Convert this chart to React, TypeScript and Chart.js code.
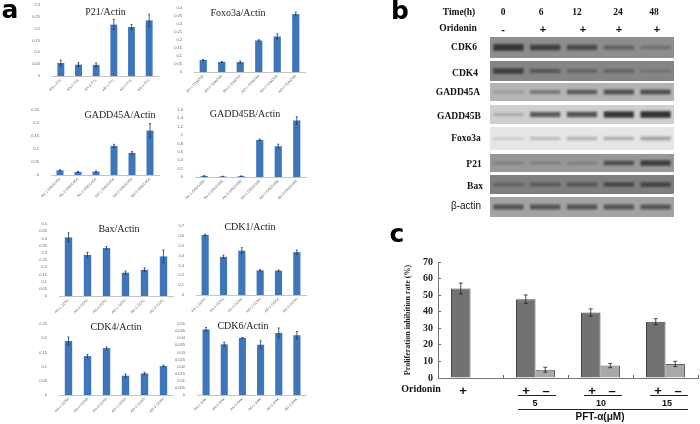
import React, { useEffect, useRef } from "react";
import { Chart, registerables } from "chart.js";

Chart.register(...registerables);

const SERIF = "'Liberation Serif', serif";
const SANS = "'Liberation Sans', sans-serif";
const HEAVY = "'DejaVu Sans', sans-serif";

const groups = ["AN-1", "AN-2", "AN-3", "AO-1", "AO-2", "AO-3"];

const p21Values = [0.055, 0.048, 0.047, 0.217, 0.207, 0.235];
const p21Errors = [0.012, 0.008, 0.008, 0.022, 0.011, 0.026];
const foxoValues = [0.075, 0.063, 0.062, 0.197, 0.222, 0.362];
const foxoErrors = [0.003, 0.003, 0.007, 0.004, 0.016, 0.012];
const gadd45aValues = [0.018, 0.012, 0.013, 0.112, 0.085, 0.171];
const gadd45aErrors = [0.002, 0.002, 0.002, 0.006, 0.005, 0.027];
const gadd45bValues = [0.025, 0.015, 0.02, 0.885, 0.735, 1.35];
const gadd45bErrors = [0.005, 0.003, 0.005, 0.02, 0.05, 0.09];
const baxValues = [0.407, 0.285, 0.333, 0.162, 0.182, 0.275];
const baxErrors = [0.032, 0.018, 0.01, 0.012, 0.013, 0.045];
const cdk1Values = [0.61, 0.387, 0.45, 0.25, 0.247, 0.435];
const cdk1Errors = [0.008, 0.018, 0.03, 0.006, 0.006, 0.02];
const cdk4Values = [0.19, 0.137, 0.165, 0.068, 0.076, 0.102];
const cdk4Errors = [0.014, 0.006, 0.004, 0.006, 0.004, 0.003];
const cdk6Values = [0.0462, 0.0357, 0.0402, 0.0354, 0.0437, 0.0421];
const cdk6Errors = [0.0013, 0.0014, 0.0003, 0.0027, 0.0035, 0.0026];

const smallPanels = [
  { title: "P21/Actin", tag: "P21", values: p21Values, errors: p21Errors, max: 0.3, step: 0.05, rect: [51.7, 158, 5, 76], tx: 105.5, ty: 12 },
  { title: "Foxo3a/Actin", tag: "FOXO3A", values: foxoValues, errors: foxoErrors, max: 0.4, step: 0.05, rect: [193.7, 305, 8, 72], tx: 238, ty: 13 },
  { title: "GADD45A/Actin", tag: "GADD45A", values: gadd45aValues, errors: gadd45aErrors, max: 0.25, step: 0.05, rect: [51, 159, 110, 175], tx: 120, ty: 115 },
  { title: "GADD45B/Actin", tag: "GADD45B", values: gadd45bValues, errors: gadd45bErrors, max: 1.6, step: 0.2, rect: [195, 306, 110, 177], tx: 245, ty: 114 },
  { title: "Bax/Actin", tag: "CDK1", values: baxValues, errors: baxErrors, max: 0.5, step: 0.05, rect: [59, 172.5, 224, 296], tx: 119, ty: 229 },
  { title: "CDK1/Actin", tag: "CDK4", values: cdk1Values, errors: cdk1Errors, max: 0.7, step: 0.1, rect: [196, 306, 226, 295], tx: 250, ty: 227 },
  { title: "CDK4/Actin", tag: "CDK6", values: cdk4Values, errors: cdk4Errors, max: 0.25, step: 0.05, rect: [59, 172.5, 324, 395], tx: 116, ty: 327 },
  { title: "CDK6/Actin", tag: "BAX", values: cdk6Values, errors: cdk6Errors, max: 0.05, step: 0.005, rect: [197, 306, 324, 395], tx: 243, ty: 326 },
];

const laneTimes = ["0", "6", "12", "24", "48"];
const laneTimeX = [503, 541, 577, 618, 654];
const laneSigns = ["-", "+", "+", "+", "+"];
const laneSignX = [503, 543, 583, 619, 657];

const cdk6Bands = [0.85, 0.7, 0.6, 0.35, 0.2];
const cdk4Bands = [0.7, 0.4, 0.3, 0.3, 0.12];
const gadd45aBands = [0.12, 0.4, 0.6, 0.7, 0.7];
const gadd45bBands = [0.15, 0.7, 0.75, 0.95, 1];
const foxoBands = [0.03, 0.12, 0.18, 0.2, 0.28];
const p21Bands = [0.12, 0.15, 0.12, 0.6, 0.8];
const baxBands = [0.25, 0.35, 0.4, 0.55, 0.6];
const actinBands = [0.6, 0.6, 0.6, 0.6, 0.6];

const blotRows = [
  { name: "CDK6", bands: cdk6Bands, top: 37, bottom: 58, bg: "#8d8d8d", lx: 464, ly: 48, font: SERIF },
  { name: "CDK4", bands: cdk4Bands, top: 61, bottom: 81, bg: "#858585", lx: 465, ly: 74, font: SERIF },
  { name: "GADD45A", bands: gadd45aBands, top: 83, bottom: 101, bg: "#b4b4b4", lx: 458, ly: 93, font: SERIF },
  { name: "GADD45B", bands: gadd45bBands, top: 105, bottom: 124, bg: "#cfcfcf", lx: 459, ly: 117, font: SERIF },
  { name: "Foxo3a", bands: foxoBands, top: 127, bottom: 150, bg: "#e6e6e6", lx: 466, ly: 139, font: SERIF },
  { name: "P21", bands: p21Bands, top: 154, bottom: 172, bg: "#989898", lx: 474, ly: 165, font: SERIF },
  { name: "Bax", bands: baxBands, top: 175, bottom: 194, bg: "#7f7f7f", lx: 475, ly: 187, font: SERIF },
  { name: "β-actin", bands: actinBands, top: 197, bottom: 217, bg: "#a3a3a3", lx: 466, ly: 206, font: SANS },
];

const inhibitionCategories = ["Control", "5", "10", "15"];
const oridoninPlus = [54, 47.5, 39.5, 34];
const oridoninPlusErrors = [3.3, 2.6, 2.2, 1.8];
const oridoninMinus = [null, 5, 7.5, 8.5];
const oridoninMinusErrors = [0, 1.5, 1.3, 1.6];

const errorBars = {
  id: "errorBars",
  afterDatasetsDraw(chart: any) {
    const ctx = chart.ctx;
    const yScale = chart.scales.y;
    chart.data.datasets.forEach((ds: any, i: number) => {
      if (!ds.errors) return;
      const meta = chart.getDatasetMeta(i);
      meta.data.forEach((el: any, j: number) => {
        const v = ds.data[j];
        if (v === null) return;
        const hi = yScale.getPixelForValue(v + ds.errors[j]);
        const lo = yScale.getPixelForValue(v - ds.errors[j]);
        const cap = ds.capSize;
        ctx.save();
        ctx.strokeStyle = ds.errorColor;
        ctx.lineWidth = 0.8;
        ctx.beginPath();
        ctx.moveTo(el.x, hi);
        ctx.lineTo(el.x, lo);
        ctx.moveTo(el.x - cap, hi);
        ctx.lineTo(el.x + cap, hi);
        ctx.moveTo(el.x - cap, lo);
        ctx.lineTo(el.x + cap, lo);
        ctx.stroke();
        ctx.restore();
      });
    });
  },
};

const fixX = (height: number) => (s: any) => {
  s.height = height;
  s.paddingLeft = 0;
  s.paddingRight = 0;
};
const fixY = (width: number) => (s: any) => {
  s.width = width;
  s.paddingTop = 0;
  s.paddingBottom = 0;
};

function SmallBar({ panel }: { panel: any }) {
  const ref = useRef<HTMLCanvasElement>(null);
  const [l, r, t, b] = panel.rect;
  useEffect(() => {
    const chart = new Chart(ref.current!, {
      type: "bar",
      data: {
        labels: groups.map((g) => `${g} ${panel.tag}`),
        datasets: [
          {
            data: panel.values,
            errors: panel.errors,
            errorColor: "#1d3a60",
            capSize: 1,
            backgroundColor: "#3f76ba",
            categoryPercentage: 0.39,
            barPercentage: 1,
          } as any,
        ],
      },
      options: {
        animation: false,
        responsive: false,
        layout: { padding: { top: 4, right: 4, left: 0, bottom: 0 } },
        plugins: { legend: { display: false }, tooltip: { enabled: false } },
        scales: {
          x: {
            afterFit: fixX(26),
            grid: { display: true, drawOnChartArea: false, tickLength: 1, color: "#c8c8c8" },
            border: { color: "#c4c4c4" },
            ticks: { autoSkip: false, minRotation: 45, maxRotation: 45, padding: 1, color: "#666", font: { family: SANS, size: 3.6 } },
          },
          y: {
            min: 0,
            max: panel.max,
            afterFit: fixY(22),
            grid: { display: false },
            border: { display: false },
            ticks: { autoSkip: false, stepSize: panel.step, padding: 4, color: "#666", font: { family: SANS, size: 4 }, callback: (v: any) => String(+(+v).toFixed(3)) },
          },
        },
      } as any,
      plugins: [errorBars],
    });
    return () => chart.destroy();
  }, []);
  const w = r - l;
  const h = b - t;
  return (
    <canvas
      ref={ref}
      width={Math.round(22 + w + 4)}
      height={Math.round(4 + h + 26)}
      style={{ position: "absolute", left: l - 22, top: t - 4, filter: "blur(0.45px)" }}
    />
  );
}

function BlotRow({ row }: { row: any }) {
  const ref = useRef<HTMLCanvasElement>(null);
  useEffect(() => {
    const chart = new Chart(ref.current!, {
      type: "bar",
      data: {
        labels: laneTimes,
        datasets: [
          {
            data: row.bands.map((v: number) => [-(0.1 + 0.25 * v), 0.1 + 0.25 * v]),
            backgroundColor: row.bands.map((v: number) => `rgba(20,20,20,${0.12 + 0.72 * v})`),
            categoryPercentage: 0.82,
            barPercentage: 1,
          },
        ],
      },
      options: {
        animation: false,
        responsive: false,
        layout: { padding: 0 },
        plugins: { legend: { display: false }, tooltip: { enabled: false } },
        scales: { x: { display: false }, y: { display: false, min: -1, max: 1 } },
      } as any,
    });
    return () => chart.destroy();
  }, []);
  return (
    <div style={{ position: "absolute", left: 490, top: row.top, width: 184, height: row.bottom - row.top, background: row.bg, overflow: "hidden" }}>
      <canvas ref={ref} width={184} height={row.bottom - row.top} style={{ display: "block", filter: "blur(1.3px)" }} />
    </div>
  );
}

function InhibitionChart() {
  const ref = useRef<HTMLCanvasElement>(null);
  useEffect(() => {
    const chart = new Chart(ref.current!, {
      type: "bar",
      data: {
        labels: inhibitionCategories,
        datasets: [
          {
            data: oridoninPlus,
            errors: oridoninPlusErrors,
            errorColor: "#222",
            capSize: 2,
            backgroundColor: "#727272",
            borderColor: "#444",
            borderWidth: 1,
            categoryPercentage: 0.6,
            barPercentage: 1,
          } as any,
          {
            data: oridoninMinus,
            errors: oridoninMinusErrors,
            errorColor: "#222",
            capSize: 2,
            backgroundColor: "#a8a8a8",
            borderColor: "#666",
            borderWidth: 1,
            categoryPercentage: 0.6,
            barPercentage: 1,
          } as any,
        ],
      },
      options: {
        animation: false,
        responsive: false,
        layout: { padding: { top: 6, right: 2, left: 0, bottom: 0 } },
        plugins: { legend: { display: false }, tooltip: { enabled: false } },
        scales: {
          x: {
            afterFit: fixX(4),
            grid: { display: true, drawOnChartArea: false, offset: true, tickLength: -3, color: "#666" },
            border: { color: "#777" },
            ticks: { display: false },
          },
          y: {
            min: 0,
            max: 70,
            afterFit: fixY(40),
            grid: { display: true, drawOnChartArea: false, tickLength: -3, color: "#666" },
            border: { color: "#777" },
            title: { display: true, text: "Proliferation inhibition rate (%)", color: "#222", padding: { top: 5, bottom: 0 }, font: { family: SERIF, size: 8, weight: "bold" } },
            ticks: { stepSize: 10, padding: 8, color: "#222", font: { family: SERIF, size: 10, weight: "bold" } },
          },
        },
      } as any,
      plugins: [errorBars],
    });
    return () => chart.destroy();
  }, []);
  return <canvas ref={ref} width={302} height={126} style={{ position: "absolute", left: 398, top: 256 }} />;
}

function Label({ x, y, text, size = 9.5, font = SERIF, weight = 700, color = "#111", blur = 0.25 }: any) {
  return (
    <div
      style={{
        position: "absolute",
        left: x,
        top: y,
        transform: "translate(-50%,-50%)",
        whiteSpace: "nowrap",
        fontFamily: font,
        fontSize: size,
        fontWeight: weight,
        color,
        lineHeight: 1,
        filter: `blur(${blur}px)`,
      }}
    >
      {text}
    </div>
  );
}

function Rule({ x1, x2, y }: { x1: number; x2: number; y: number }) {
  return <div style={{ position: "absolute", left: x1, top: y, width: x2 - x1, height: 1, background: "#222" }} />;
}

export default function App() {
  return (
    <div style={{ position: "fixed", left: 0, top: 0, width: 700, height: 424, background: "#fff", overflow: "hidden" }}>
      {smallPanels.map((p) => (
        <SmallBar key={p.title} panel={p} />
      ))}
      {smallPanels.map((p) => (
        <Label key={p.title} x={p.tx} y={p.ty} text={p.title} size={10} weight={400} color="#222" blur={0.3} />
      ))}
      <Label x={10} y={9} text="a" size={25} font={HEAVY} color="#000" blur={0} />
      <Label x={400} y={10} text="b" size={25} font={HEAVY} color="#000" blur={0} />
      <Label x={397} y={233} text="c" size={25} font={HEAVY} color="#000" blur={0} />

      <Label x={459} y={13} text="Time(h)" />
      {laneTimes.map((t, i) => (
        <Label key={t} x={laneTimeX[i]} y={13} text={t} />
      ))}
      <Label x={458} y={29} text="Oridonin" />
      {laneSigns.map((s, i) => (
        <Label key={i} x={laneSignX[i]} y={29} text={s} size={11} font={SANS} />
      ))}
      {blotRows.map((r) => (
        <BlotRow key={r.name} row={r} />
      ))}
      {blotRows.map((r) => (
        <Label key={r.name} x={r.lx} y={r.ly} text={r.name} size={r.font === SANS ? 10 : 9.5} font={r.font} weight={r.font === SANS ? 400 : 700} />
      ))}

      <InhibitionChart />
      <Label x={421} y={389} text="Oridonin" size={10} />
      <Label x={463} y={390} text="+" size={13} font={SANS} />
      <Label x={526} y={390} text="+" size={13} font={SANS} />
      <Label x={546} y={390} text="–" size={13} font={SANS} />
      <Label x={592} y={390} text="+" size={13} font={SANS} />
      <Label x={612} y={390} text="–" size={13} font={SANS} />
      <Label x={658} y={390} text="+" size={13} font={SANS} />
      <Label x={678} y={390} text="–" size={13} font={SANS} />
      <Rule x1={518} x2={556} y={395} />
      <Rule x1={584} x2={622} y={395} />
      <Rule x1={650} x2={688} y={395} />
      <Label x={535} y={403} text="5" size={9} font={SANS} />
      <Label x={601} y={403} text="10" size={9} font={SANS} />
      <Label x={667} y={403} text="15" size={9} font={SANS} />
      <Rule x1={518} x2={688} y={409} />
      <Label x={600} y={417} text="PFT-α(μM)" size={10} font={SANS} />
    </div>
  );
}
